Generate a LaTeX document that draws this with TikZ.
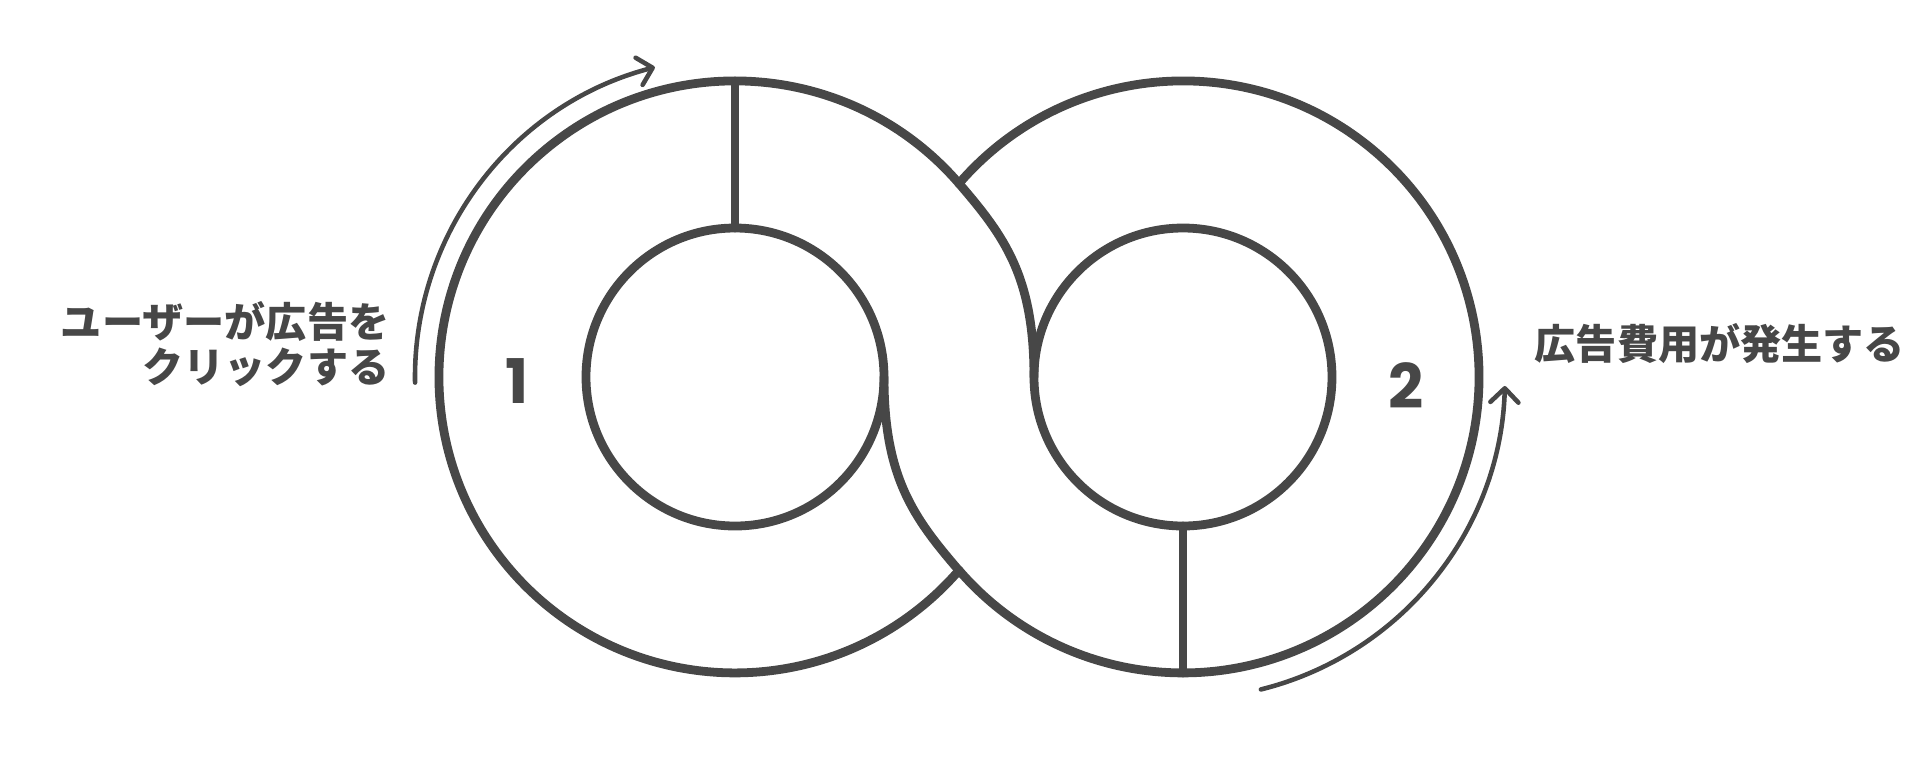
\documentclass[tikz,border=0pt]{standalone}
\usepackage{fontspec}
\newfontfamily\jpfont{Noto Sans CJK JP}
\newfontfamily\numfont{Poppins}
\usetikzlibrary{arrows.meta}
\definecolor{ink}{HTML}{474747}

\begin{document}
\begin{tikzpicture}[x=0.01cm, y=0.01cm,
    ribbon/.style = {draw=ink, line width=2.5pt, line cap=round, line join=round},
    flow/.style = {draw=ink, line width=1.3pt, line cap=round,
                -{Straight Barb[round, length=1.4mm, width=2.8mm]}},
    note/.style = {text=ink, inner sep=0pt,
                font=\jpfont\bfseries\fontsize{11.7pt}{13pt}\selectfont},
    num/.style = {text=ink, inner sep=0pt, anchor=base,
                font=\numfont\bfseries\fontsize{17.5pt}{20pt}\selectfont}
                    ]
        \useasboundingbox (0,0) rectangle (1920,756);
        \def\R{296}  % outer radius of a loop
        \def\r{149}  % radius of a hole
        \coordinate (lc) at (735,379);
        \coordinate (rc) at (1183,379);
        \coordinate (top) at (959,572.5);
        \coordinate (bot) at (959,185.5);
        \coordinate (lin) at (884,379);
        \coordinate (rin) at (1034,379);
        % outer edges of the two loops
        \draw[ribbon] (top) arc[start angle=40.8, end angle=319.2, radius=\R];
        \draw[ribbon] (top) arc[start angle=139.2, end angle=-139.2, radius=\R];
        % holes
        \draw[ribbon] (lc) circle[radius=\r];
        \draw[ribbon] (rc) circle[radius=\r];
        % the two strands through the middle
        \draw[ribbon] (top) .. controls (1004.7,519.5) and (1034,479) .. (rin);
        \draw[ribbon] (lin) .. controls (884,279) and (913.3,238.5) .. (bot);
        % spokes
        \draw[ribbon] (lc) ++(0,\r) -- ++(0,\R-\r);
        \draw[ribbon] (rc) ++(0,-\r) -- ++(0,\r-\R);
        % arrows along the loops
        \draw[flow] (lc) ++(181:320) arc[start angle=181, end angle=104.5, radius=320];
        \draw[flow] (rc) ++(-76:322) arc[start angle=-76, end angle=-1.6, radius=322];
        \node[num] (one) at (517,352.5) {1};
        \node[num] (two) at (1406,347.5) {2};
        \node[note, anchor=east, align=right] (click) at (390,412) {ユーザーが広告を\\クリックする};
        \node[note, anchor=west] (cost) at (1534,412) {広告費用が発生する};
    \end{tikzpicture}
\end{document}
